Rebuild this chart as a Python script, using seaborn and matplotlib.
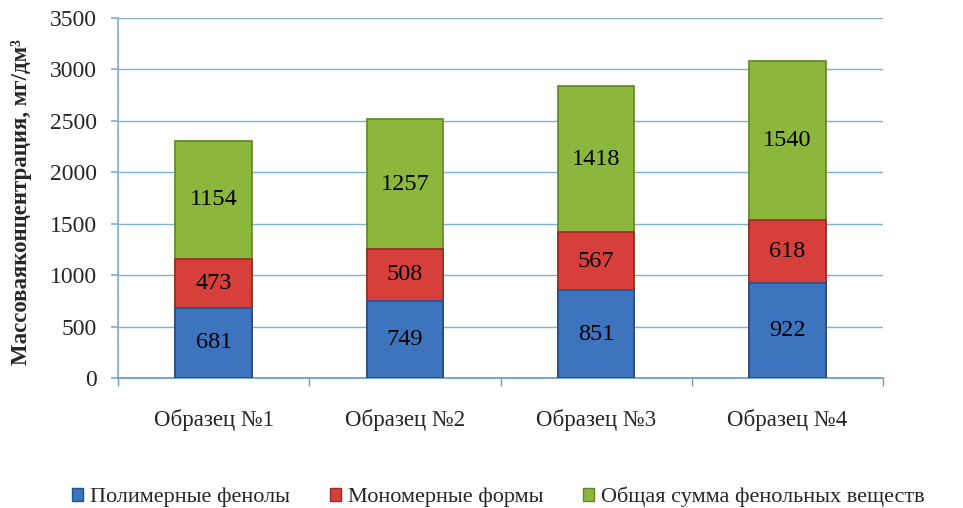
import matplotlib
matplotlib.use("Agg")
import matplotlib.pyplot as plt
import seaborn as sns
import pandas as pd
import numpy as np
from matplotlib.patches import Patch

samples = ["Образец №1", "Образец №2", "Образец №3", "Образец №4"]
polymer = [681, 749, 851, 922]
monomer = [473, 508, 567, 618]
total_sum = [1154, 1257, 1418, 1540]
series_names = ["Полимерные фенолы", "Мономерные формы", "Общая сумма фенольных веществ"]
y_ticks = [0, 500, 1000, 1500, 2000, 2500, 3000, 3500]

colors = ["#3d74bd", "#d63f3a", "#8bb83c"]
edge_colors = ["#24508a", "#9a2a25", "#5f8526"]
grid_color = "#7fb0d4"

sns.set_theme(style="white")
plt.rcParams["font.family"] = ["Liberation Serif", "DejaVu Serif"]

fig = plt.figure(figsize=(9.63, 5.08), dpi=100)
ax = fig.add_axes([118 / 963, 1 - 378 / 508, (883 - 118) / 963, 360 / 508])

df = pd.DataFrame({"sample": samples, "p": polymer, "m": monomer, "t": total_sum})
df["c1"] = df["p"]
df["c2"] = df["p"] + df["m"]
df["c3"] = df["p"] + df["m"] + df["t"]

for col, c, ec in [("c3", colors[2], edge_colors[2]), ("c2", colors[1], edge_colors[1]), ("c1", colors[0], edge_colors[0])]:
    sns.barplot(data=df, x="sample", y=col, color=c, width=0.4, ax=ax,
                edgecolor=ec, linewidth=1.2, saturation=1, zorder=3)

# labels
for i in range(len(samples)):
    bottoms = [0, polymer[i], polymer[i] + monomer[i]]
    vals = [polymer[i], monomer[i], total_sum[i]]
    for b, v in zip(bottoms, vals):
        ax.text(i, b + v / 2, str(v), ha="center", va="center", fontsize=17.5,
                color="black", zorder=5)

ax.set_ylim(0, 3500)
ax.set_xlim(-0.5, 3.5)
ax.set_yticks(y_ticks)
ax.set_yticklabels([str(v) for v in y_ticks], fontsize=17)
ax.yaxis.grid(True, color=grid_color, linewidth=1.0, zorder=0)
ax.set_axisbelow(True)
ax.set_xlabel("")
ax.set_ylabel("Массоваяконцентрация, мг/дм³", fontsize=16.5, fontweight="bold")
ax.yaxis.set_label_coords(-0.113, 0.49)

for s in ["top", "right"]:
    ax.spines[s].set_visible(False)
ax.spines["left"].set_color(grid_color)
ax.spines["bottom"].set_color("#6a9cc4")
ax.tick_params(axis="y", left=True, length=5, color=grid_color, pad=10)
ax.set_xticks([0, 1, 2, 3])
ax.set_xticklabels(samples, fontsize=16.5)
ax.tick_params(axis="x", which="major", bottom=False, pad=16)
ax.set_xticks([-0.5, 0.5, 1.5, 2.5, 3.5], minor=True)
ax.tick_params(axis="x", which="minor", bottom=True, length=6, color="#6a9cc4")

handles = [Patch(facecolor=c, edgecolor=ec, label=n) for c, ec, n in zip(colors, edge_colors, series_names)]
fig.legend(handles=handles, loc="center left", bbox_to_anchor=(52 / 963, 1 - 497 / 508), ncol=3,
           frameon=False, fontsize=16, handlelength=0.5, handleheight=0.5,
           handletextpad=0.3, columnspacing=1.8)

fig.savefig("out.png", dpi=100)
